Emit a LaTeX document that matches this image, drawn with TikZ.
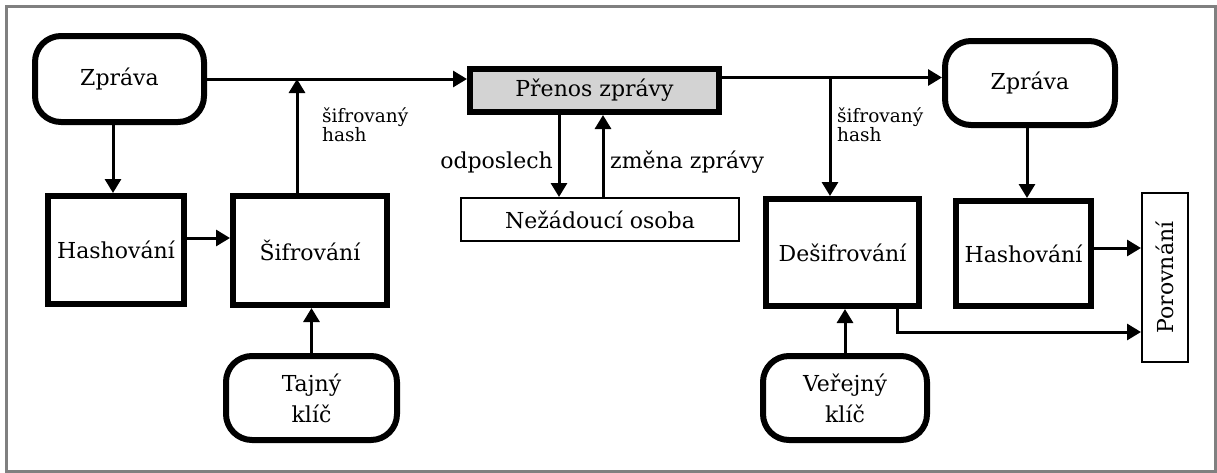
\documentclass[tikz,border=0pt]{standalone}
\usepackage{fontspec}
\setmainfont{DejaVu Serif}
\usetikzlibrary{arrows.meta,calc}
\definecolor{framegray}{RGB}{128,128,128}
\definecolor{boxfill}{RGB}{211,211,211}
\tikzset{
  mainfont/.style={font=\fontsize{22}{31}\selectfont},
  thickbox/.style={draw, line width=6pt, mainfont, inner sep=0pt, align=center},
  roundbox/.style={thickbox, rounded corners=26pt},
  thinbox/.style={draw, line width=2pt, mainfont, inner sep=0pt},
  arr/.style={line width=3pt, -{Triangle[length=14pt,width=16pt]}},
  lbl/.style={font=\fontsize{18.5}{19}\selectfont, inner sep=0pt, align=left},
  mlbl/.style={mainfont, inner sep=0pt},
}
\begin{document}
\begin{tikzpicture}[x=1pt,y=-1pt]
\useasboundingbox (0,0) rectangle (1217,472);
\draw[framegray, line width=3pt] (6.5,6.5) rectangle (1215.5,471);

% left side
\node[roundbox, minimum width=169pt, minimum height=86pt] (z1) at (119.5,79) {Zpráva};
\node[thickbox, minimum width=136pt, minimum height=108pt] (h1) at (116,250) {Hashování};
\node[thickbox, minimum width=154pt, minimum height=109pt] (sif) at (310,250.5) {Šifrování};
\node[roundbox, minimum width=171pt, minimum height=84pt] (taj) at (311.5,398) {Tajný\\klíč};

% middle
\node[thickbox, fill=boxfill, minimum width=249pt, minimum height=43pt] (pr) at (594.5,90.5) {Přenos zprávy};
\node[thinbox, minimum width=278pt, minimum height=43pt] (nez) at (600,219.5) {Nežádoucí osoba};

% right side
\node[roundbox, minimum width=170pt, minimum height=84pt] (z2) at (1030,83) {Zpráva};
\node[thickbox, minimum width=153pt, minimum height=107pt] (des) at (842.5,252.5) {Dešifrování};
\node[thickbox, minimum width=135pt, minimum height=105pt] (h2) at (1023.5,253.5) {Hashování};
\node[thinbox, minimum width=46pt, minimum height=169pt] (por) at (1165,277.5) {};
\node[mlbl, rotate=90] (port) at (por.center) {Porovnání};
\node[roundbox, minimum width=164pt, minimum height=84pt] (ver) at (845,398) {Veřejný\\klíč};

% junction points
\coordinate (sh) at (297,79);
\coordinate (dh) at (830,77.5);

% connectors left
\draw[arr] (z1.east) -- (z1.east -| pr.west);
\draw[arr] ([xshift=-6.5pt]z1.south) -- ([xshift=-6.5pt]z1.south |- h1.north);
\draw[arr] ([yshift=12pt]h1.east) -- ([yshift=12pt]h1.east -| sif.west);
\draw[arr] (sh |- sif.north) -- (sh);
\draw[arr] (taj.north) -- (taj.north |- sif.south);

% connectors middle
\draw[arr] ([xshift=-35.5pt]pr.south) -- ([xshift=-35.5pt]pr.south |- nez.north);
\draw[arr] ([xshift=8.5pt]pr.south |- nez.north) -- ([xshift=8.5pt]pr.south);

% connectors right
\draw[arr] ([yshift=13pt]pr.east) -- ([yshift=13pt]pr.east -| z2.west);
\draw[arr] (dh) -- (dh |- des.north);
\draw[arr] ([xshift=-3pt]z2.south) -- ([xshift=-3pt]z2.south |- h2.north);
\draw[arr] ([yshift=5.5pt]h2.east) -- ([yshift=5.5pt]h2.east -| por.west);
\draw[arr] ([xshift=54.5pt]des.south) |- ([yshift=-54.5pt]por.west);
\draw[arr] (ver.north) -- (ver.north |- des.south);

% labels
\node[lbl, anchor=north west] (l1) at (322,107) {šifrovaný\\hash};
\node[lbl, anchor=north west] (l2) at (837,107) {šifrovaný\\hash};
\node[mlbl, anchor=base east] (l3) at (553,168) {odposlech};
\node[mlbl, anchor=base west] (l4) at (610,168) {změna zprávy};
\end{tikzpicture}
\end{document}
